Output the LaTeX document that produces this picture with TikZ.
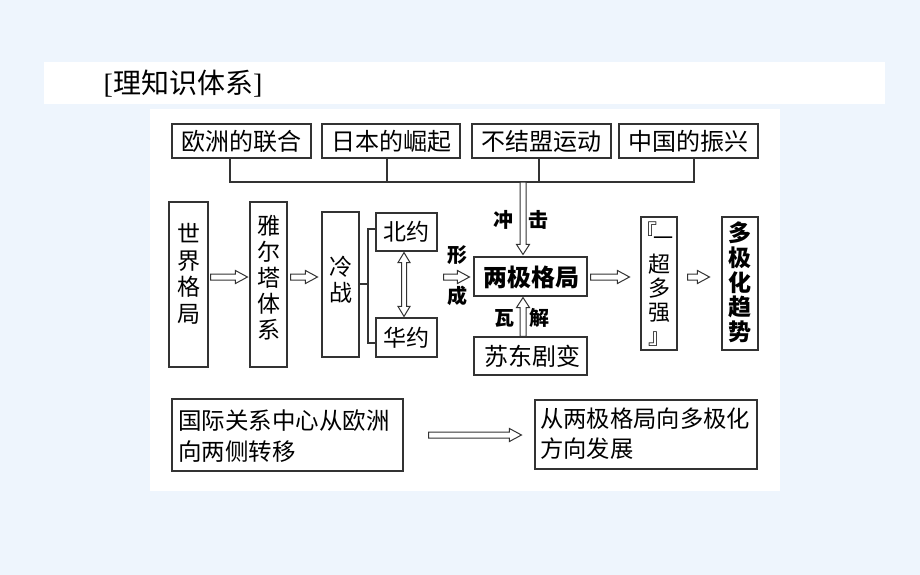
\documentclass[tikz,border=0pt]{standalone}
\usepackage{fontspec}
\setmainfont{Liberation Serif}
\newfontfamily\cjk{Noto Sans CJK SC}
\usetikzlibrary{calc}
\definecolor{bgblue}{HTML}{EEF5FD}
\definecolor{boxline}{HTML}{333333}
\begin{document}
\begin{tikzpicture}[x=1pt,y=-1pt,
  box/.style={draw=boxline, line width=1.1pt, rectangle, inner sep=0pt},
  txt/.style={font=\cjk\fontsize{24}{28}\selectfont, inner sep=0pt, text=black},
  vtxt/.style={font=\cjk\fontsize{23}{26.5}\selectfont, inner sep=0pt, align=center, text=black},
  vbold/.style={font=\cjk\bfseries\fontsize{23}{24.7}\selectfont, inner sep=0pt, align=center, text=black},
  lbl/.style={font=\cjk\bfseries\fontsize{20}{22}\selectfont, inner sep=0pt, text=black},
  btxt/.style={font=\cjk\fontsize{23.5}{31.5}\selectfont, inner sep=0pt, align=left, text=black},
  conn/.style={draw=boxline, line width=1.1pt},
  hol/.style={draw=boxline, fill=white, line width=1pt, line join=miter},
  harr/.style={hol, to path={let \p1=(\tikztostart), \p2=(\tikztotarget) in
    (\x1,\y1+3pt) -- (\x2-12pt,\y1+3pt) -- (\x2-12pt,\y1+6.5pt) -- (\x2,\y1)
    -- (\x2-12pt,\y1-6.5pt) -- (\x2-12pt,\y1-3pt) -- (\x1,\y1-3pt) -- cycle}},
  vdown/.style={hol, to path={let \p1=(\tikztostart), \p2=(\tikztotarget) in
    (\x1+3pt,\y1) -- (\x1+3pt,\y2+10pt) -- (\x1+6.5pt,\y2+10pt) -- (\x1,\y2)
    -- (\x1-6.5pt,\y2+10pt) -- (\x1-3pt,\y2+10pt) -- (\x1-3pt,\y1) -- cycle}},
  vup/.style={hol, to path={let \p1=(\tikztostart), \p2=(\tikztotarget) in
    (\x1+3pt,\y1) -- (\x1+3pt,\y2-10pt) -- (\x1+6.5pt,\y2-10pt) -- (\x1,\y2)
    -- (\x1-6.5pt,\y2-10pt) -- (\x1-3pt,\y2-10pt) -- (\x1-3pt,\y1) -- cycle}},
  vboth/.style={hol, to path={let \p1=(\tikztostart), \p2=(\tikztotarget) in
    (\x1+2.5pt,\y1-10pt) -- (\x1+6pt,\y1-10pt) -- (\x1,\y1) -- (\x1-6pt,\y1-10pt)
    -- (\x1-2.5pt,\y1-10pt) -- (\x1-2.5pt,\y2+10pt) -- (\x1-6pt,\y2+10pt) -- (\x1,\y2)
    -- (\x1+6pt,\y2+10pt) -- (\x1+2.5pt,\y2+10pt) -- cycle}}
]
% background
\fill[bgblue] (0,0) rectangle (920,575);
\useasboundingbox (0,0) rectangle (920,575);
\fill[white] (44,62) rectangle (885,104);
\fill[white] (150,109) rectangle (780,491);

% title
\node[inner sep=0pt, font=\fontsize{28}{30}\selectfont] (title) at (183,84) {[\cjk 理知识体系\normalfont]};

% top row
\node[box, minimum width=139pt, minimum height=34pt] (oz) at (241.5,141) {};
\node[txt] (ozt) at (oz) {欧洲的联合};
\node[box, minimum width=138pt, minimum height=34pt] (rb) at (391,141) {};
\node[txt] (rbt) at (rb) {日本的崛起};
\node[box, minimum width=139pt, minimum height=34pt] (bj) at (541.5,141) {};
\node[txt] (bjt) at (bj) {不结盟运动};
\node[box, minimum width=139pt, minimum height=34pt] (zx) at (688.5,141) {};
\node[txt] (zxt) at (zx) {中国的振兴};

\coordinate (s1) at (230,182);
\coordinate (s2) at (387,182);
\coordinate (s3) at (539,182);
\coordinate (s4) at (694,182);
\coordinate (hub) at (523,182);
\draw[conn] (oz.south -| s1) -- (s1) -- (s4) -- (zx.south -| s4);
\draw[conn] (rb.south -| s2) -- (s2);
\draw[conn] (bj.south -| s3) -- (s3);

% middle row
\coordinate (row) at (0,277);
\node[box, minimum width=39pt, minimum height=165pt] (sj) at (188.5,284.5) {};
\node[vtxt] (sjt) at (188.5,274) {世\\界\\格\\局};
\node[box, minimum width=37pt, minimum height=165pt] (ya) at (268.5,284.5) {};
\node[vtxt, font=\cjk\fontsize{23}{26}\selectfont] (yat) at (268.5,278) {雅\\尔\\塔\\体\\系};
\node[box, minimum width=37pt, minimum height=145pt] (lz) at (340.5,284.5) {};
\node[vtxt, font=\cjk\fontsize{23}{26}\selectfont] (lzt) at (340.5,280) {冷\\战};
\node[box, minimum width=61pt, minimum height=38pt] (by) at (406.5,232) {};
\node[txt, font=\cjk\fontsize{23}{26}\selectfont] (byt) at (by) {北约};
\node[box, minimum width=61pt, minimum height=39pt] (hy) at (406.5,337.5) {};
\node[txt, font=\cjk\fontsize{23}{26}\selectfont] (hyt) at (hy) {华约};

\coordinate (bk) at (368,284);
\draw[conn] (lz.east |- bk) -- (bk);
\draw[conn] (by.west |- 0,229) -- (368,229) -- (368,343) -- (hy.west |- 0,343);

\coordinate (bh) at (404,0);
\draw[vboth] ($(by.south -| bh)+(0,1)$) to ($(hy.north -| bh)+(0,-1)$);

\node[box, minimum width=113pt, minimum height=39pt] (lj) at (530.5,276.5) {};
\node[txt, font=\cjk\bfseries\fontsize{24}{28}\selectfont] (ljt) at (531,277.5) {两极格局};
\node[box, minimum width=113pt, minimum height=38pt] (sd) at (530.5,356) {};
\node[txt] (sdt) at (532,356) {苏东剧变};

\node[box, minimum width=36pt, minimum height=133pt] (yc) at (659,283.5) {};
\node[txt, font=\cjk\fontsize{22}{24}\selectfont] (yq1) at (646,231) {『\rlap{\hspace{-4pt}\smash{\raisebox{-5.5pt}{\fontsize{20}{22}\selectfont 一}}}};
\node[vtxt, font=\cjk\fontsize{22}{24}\selectfont] (yct) at (659,300) {超\\多\\强\\』};
\node[box, minimum width=36pt, minimum height=133pt] (dj) at (740,283.5) {};
\node[vbold] (djt) at (740,282.5) {多\\极\\化\\趋\\势};

% arrows in middle row
\draw[harr] ($(sj.east |- row)+(2,0)$) to ($(ya.west |- row)+(-2,0)$);
\draw[harr] ($(ya.east |- row)+(3,0)$) to ($(lz.west |- row)+(-4,0)$);
\draw[harr] ($(by.east |- row)+(6,0)$) to ($(lj.west |- row)+(-4,0)$);
\draw[harr] ($(lj.east |- row)+(3,0)$) to ($(yc.west |- row)+(-11,0)$);
\draw[harr] ($(yc.east |- row)+(10,0)$) to ($(dj.west |- row)+(-12,0)$);
\draw[vdown] (hub) to ($(lj.north -| hub)+(0,-2)$);
\draw[vup] (sd.north -| hub) to ($(lj.south -| hub)+(0,1)$);

\node[lbl] (chong) at (503,220) {冲};
\node[lbl] (ji) at (538,220) {击};
\node[lbl] (xing) at (457,255) {形};
\node[lbl] (cheng) at (457,296) {成};
\node[lbl] (wa) at (504,318) {瓦};
\node[lbl] (jie) at (539,318) {解};

% bottom row
\node[box, minimum width=231pt, minimum height=72pt] (b1) at (287.5,435) {};
\node[btxt, anchor=west] (b1t) at (178,436) {国际关系中心从欧洲\\向两侧转移};
\node[box, minimum width=222pt, minimum height=69pt] (b2) at (646,434.5) {};
\node[btxt, anchor=west, font=\cjk\fontsize{23.3}{29.5}\selectfont] (b2t) at (540,433.5) {从两极格局向多极化\\方向发展};
\draw[harr] ($(b1.east)+(25,0)$) to ($(b2.west)+(-13,0)$);
\end{tikzpicture}
\end{document}
